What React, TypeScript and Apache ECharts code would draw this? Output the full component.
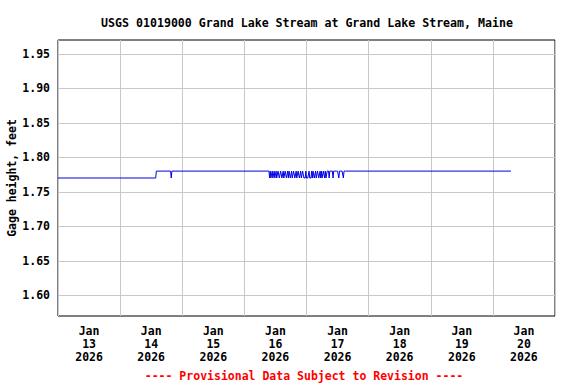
import React, { useEffect, useRef } from "react";
import * as echarts from "echarts";

const titleText = "USGS 01019000 Grand Lake Stream at Grand Lake Stream, Maine";
const footerText = "---- Provisional Data Subject to Revision ----";
const yAxisName = "Gage height, feet";
const monthLabel = "Jan";
const yearLabel = "2026";
const dayLabels = ["13", "14", "15", "16", "17", "18", "19", "20"];
const yTickValues = [1.6, 1.65, 1.7, 1.75, 1.8, 1.85, 1.9, 1.95];
const xMin = "2026-01-13 00:00";
const xMax = "2026-01-21 00:00";

// Readings before the fluctuating period
const earlyPoints: [string, number][] = [
  ["2026-01-13 00:00", 1.77],
  ["2026-01-14 13:45", 1.77],
  ["2026-01-14 14:00", 1.78],
  ["2026-01-14 19:30", 1.78],
  ["2026-01-14 19:45", 1.77],
  ["2026-01-14 20:00", 1.78],
  ["2026-01-16 09:30", 1.78],
];

// 15-minute readings during the fluctuating period starting at fluctStart
const fluctStart = "2026-01-16 09:45";
const fluctValues = [
  1.77, 1.78, 1.77, 1.77, 1.78, 1.77, 1.77, 1.78, 1.77, 1.77,
  1.78, 1.77, 1.77, 1.78, 1.78, 1.77, 1.77, 1.78, 1.78, 1.77,
  1.77, 1.78, 1.77, 1.77, 1.78, 1.78, 1.77, 1.77, 1.78, 1.77,
  1.78, 1.78, 1.77, 1.77, 1.78, 1.77, 1.77, 1.78, 1.78, 1.77,
  1.77, 1.78, 1.77, 1.77, 1.78, 1.78, 1.77, 1.77, 1.78, 1.77,
  1.77, 1.78, 1.78, 1.77, 1.77, 1.77, 1.78, 1.77, 1.77, 1.77,
  1.77, 1.78, 1.77, 1.77, 1.77, 1.78, 1.77, 1.78, 1.78, 1.77,
  1.77, 1.78, 1.77, 1.77, 1.78, 1.78, 1.77, 1.77, 1.78, 1.77,
  1.78, 1.77, 1.77, 1.78, 1.78, 1.77, 1.78, 1.77, 1.77, 1.78,
  1.78, 1.78, 1.77, 1.78, 1.78, 1.78, 1.78, 1.78, 1.77, 1.78,
  1.78, 1.78, 1.78, 1.78, 1.78, 1.78, 1.78, 1.77, 1.78, 1.78,
  1.78, 1.78, 1.78, 1.78, 1.77, 1.78,
];

// Readings after the fluctuating period
const latePoints: [string, number][] = [
  ["2026-01-17 15:00", 1.78],
  ["2026-01-20 07:00", 1.78],
];

const FONT = "'DejaVu Sans Mono', monospace";

function buildSeriesData(): [number, number][] {
  const out: [number, number][] = [];
  earlyPoints.forEach(([t, v]) => out.push([new Date(t.replace(" ", "T")).getTime(), v]));
  const t0 = new Date(fluctStart.replace(" ", "T")).getTime();
  fluctValues.forEach((v, i) => out.push([t0 + i * 15 * 60 * 1000, v]));
  latePoints.forEach(([t, v]) => out.push([new Date(t.replace(" ", "T")).getTime(), v]));
  return out;
}

export default function App() {
  const ref = useRef<HTMLDivElement>(null);
  useEffect(() => {
    if (!ref.current) return;
    const chart = echarts.init(ref.current, undefined, { renderer: "svg" });
    chart.setOption({
      animation: false,
      backgroundColor: "#fff",
      title: [
        {
          text: titleText,
          left: 302,
          textAlign: "center",
          top: 12,
          textStyle: { fontFamily: FONT, fontWeight: "bold", fontSize: 11.6, color: "#000" },
        },
        {
          text: footerText,
          left: 299,
          textAlign: "center",
          top: 365,
          textStyle: { fontFamily: FONT, fontWeight: "bold", fontSize: 11.5, color: "#ff0000" },
        },
      ],
      grid: {
        left: 58,
        right: 21,
        top: 40,
        bottom: 68,
        show: true,
        borderColor: "#000",
        borderWidth: 1,
        backgroundColor: "transparent",
        containLabel: false,
        outerBoundsMode: "none",
      },
      xAxis: [
        {
          type: "category",
          data: dayLabels.map((d) => `${monthLabel}\n${d}\n${yearLabel}`),
          boundaryGap: true,
          axisLine: { show: false },
          axisTick: { show: false },
          splitLine: { show: true, interval: 0, lineStyle: { color: "#c8c8c8", width: 1 } },
          axisLabel: {
            interval: 0,
            margin: 8,
            fontFamily: FONT,
            fontWeight: "bold",
            fontSize: 11.5,
            lineHeight: 13,
            color: "#000",
          },
        },
        {
          type: "time",
          min: new Date(xMin.replace(" ", "T")).getTime(),
          max: new Date(xMax.replace(" ", "T")).getTime(),
          show: false,
        },
      ],
      yAxis: {
        type: "value",
        min: 1.57,
        max: 1.97,
        name: yAxisName,
        nameLocation: "middle",
        nameGap: 40,
        nameMoveOverlap: false,
        nameTextStyle: { fontFamily: FONT, fontWeight: "bold", fontSize: 11.5, color: "#000" },
        axisLine: { show: false },
        axisTick: { show: false, customValues: yTickValues },
        splitLine: { show: true, lineStyle: { color: "#c8c8c8", width: 1 } },
        axisLabel: {
          customValues: yTickValues,
          formatter: (v: number) => v.toFixed(2),
          margin: 8,
          fontFamily: FONT,
          fontWeight: "bold",
          fontSize: 11.5,
          color: "#000",
        },
      },
      series: [
        {
          type: "line",
          xAxisIndex: 1,
          data: buildSeriesData(),
          showSymbol: false,
          symbol: "none",
          lineStyle: { color: "#0000e6", width: 1 },
          z: 5,
        },
      ],
    });
    return () => chart.dispose();
  }, []);
  return <div ref={ref} style={{ width: 576, height: 384, position: "absolute", left: 0, top: 0 }} />;
}
